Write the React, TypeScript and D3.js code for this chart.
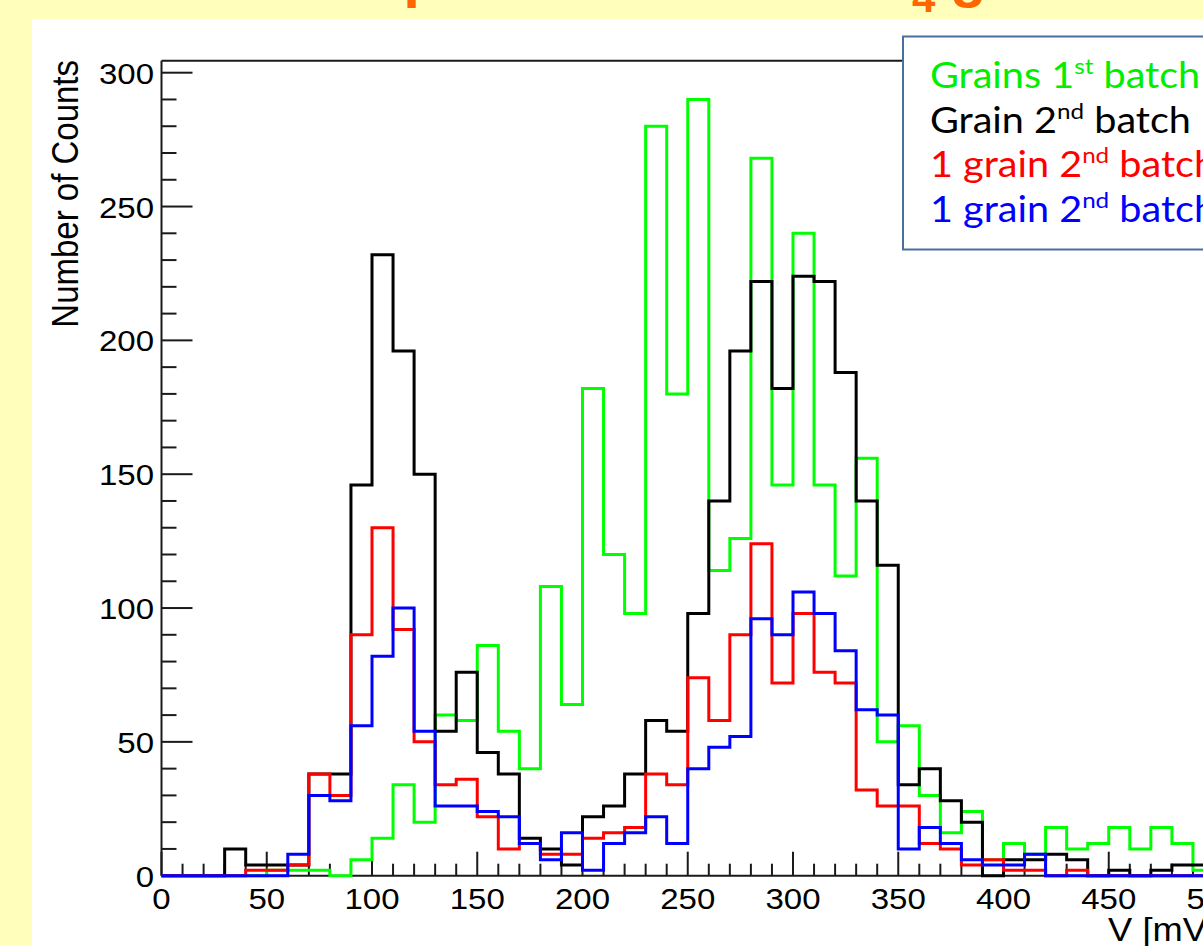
import React from "react";
import * as d3 from "d3";

// Bin edges: 0..500 mV, 10 mV wide bins
const binWidth = 10;
const grains1st = [0,0,0,0,0,2,2,2,0,6,14,34,20,60,58,86,54,40,108,64,182,120,98,280,180,290,114,126,268,146,240,146,112,156,50,56,30,16,24,6,12,8,18,10,12,18,10,18,12,2];
const grain2nd = [0,0,0,10,4,4,4,38,38,146,232,196,150,54,76,46,38,14,10,4,22,26,38,58,54,98,140,196,222,182,224,222,188,140,116,34,40,28,20,0,6,6,8,6,0,2,0,2,4,4];
const oneGrainRed = [0,0,0,0,2,2,4,38,30,90,130,92,50,34,36,22,10,12,8,8,14,16,18,38,34,74,58,90,124,72,98,76,72,32,26,26,12,10,4,6,2,2,0,2,0,0,0,0,0,0];
const oneGrainBlue = [0,0,0,0,0,0,8,30,28,56,82,100,54,26,26,24,22,12,6,16,2,12,16,22,12,40,48,52,96,90,106,98,84,62,60,10,18,12,6,4,4,8,0,0,0,0,0,0,0,0];

const xTicksMajor = [0, 50, 100, 150, 200, 250, 300, 350, 400, 450, 500];
const yTicksMajor = [0, 50, 100, 150, 200, 250, 300];

const series = [
  { name: "green", values: grains1st, color: "#00ff00" },
  { name: "black", values: grain2nd, color: "#000000" },
  { name: "red", values: oneGrainRed, color: "#ff0000" },
  { name: "blue", values: oneGrainBlue, color: "#0000ff" },
];

const legendItems = [
  { pre: "Grains 1", sup: "st", post: " batch", color: "#00ee00" },
  { pre: "Grain 2", sup: "nd", post: " batch", color: "#000000" },
  { pre: "1 grain 2", sup: "nd", post: " batch", color: "#ff0000" },
  { pre: "1 grain 2", sup: "nd", post: " batch", color: "#0000ff" },
];

const W = 1203;
const H = 946;
const SX = 1.1; // horizontal stretch of the original picture

export default function App() {
  const x = d3.scaleLinear().domain([0, 500]).range([161.5, 1214]);
  const y = d3.scaleLinear().domain([0, 300]).range([875.7, 72.7]);
  const yTop = y(304.5);

  const line = d3
    .line<[number, number]>()
    .x((d) => x(d[0]))
    .y((d) => y(d[1]))
    .curve(d3.curveStepAfter);

  const pathFor = (vals: number[]) => {
    const pts: [number, number][] = [[0, 0]];
    vals.forEach((v, i) => pts.push([i * binWidth, v]));
    pts.push([vals.length * binWidth, vals[vals.length - 1]]);
    pts.push([vals.length * binWidth, 0]);
    return line(pts) || "";
  };

  const yMinor = d3.range(0, 301, 10).filter((v) => v % 50 !== 0);
  const xMinor = d3.range(0, 501, 10).filter((v) => v % 50 !== 0);

  const tf = (tx: number, ty: number, extra = "") =>
    `translate(${tx},${ty}) scale(${SX},1)${extra ? " " + extra : ""}`;

  const axisFont = "'Liberation Sans', Arial, Helvetica, sans-serif";
  const legendFont = "Lato, 'Open Sans', sans-serif";

  return (
    <div style={{ position: "absolute", left: 0, top: 0, width: W, height: H }}>
      <svg width={W} height={H} style={{ display: "block" }}>
        <rect x={0} y={0} width={W} height={H} fill="#ffffbb" />
        {/* slide title, mostly cut off at top */}
        <g fill="#ff6600" fontFamily={axisFont} fontWeight="bold">
          <text x={270} y={-3.6} fontSize={60}>Comparison of CaWO</text>
          <text x={912} y={12} fontSize={42}>4</text>
          <text x={950} y={-3.6} fontSize={60}>grains</text>
        </g>
        <rect x={32} y={19} width={W - 32} height={H - 19} fill="#ffffff" />

        {/* frame */}
        <g stroke="#1a1a1a" strokeWidth={2} fill="none">
          <line x1={x(0)} x2={x(0)} y1={yTop} y2={y(0)} />
          <line x1={x(0)} x2={x(500)} y1={yTop} y2={yTop} />
          <line x1={x(0)} x2={x(500)} y1={y(0)} y2={y(0)} />
          {yTicksMajor.map((t) => (
            <line key={"ym" + t} x1={x(0)} x2={x(0) + 31} y1={y(t)} y2={y(t)} />
          ))}
          {yMinor.map((t) => (
            <line key={"yn" + t} x1={x(0)} x2={x(0) + 15} y1={y(t)} y2={y(t)} />
          ))}
          {xTicksMajor.map((t) => (
            <line key={"xm" + t} x1={x(t)} x2={x(t)} y1={y(0)} y2={y(0) - 24} />
          ))}
          {xMinor.map((t) => (
            <line key={"xn" + t} x1={x(t)} x2={x(t)} y1={y(0)} y2={y(0) - 12} />
          ))}
        </g>

        {/* tick labels */}
        <g fontFamily={axisFont} fontSize={30} fill="#000">
          {yTicksMajor.map((t) => (
            <text key={"yl" + t} transform={tf(154, y(t) + 11)} textAnchor="end">
              {t}
            </text>
          ))}
          {xTicksMajor.map((t) => (
            <text key={"xl" + t} transform={tf(x(t), 909)} textAnchor="middle">
              {t}
            </text>
          ))}
        </g>

        {/* axis titles */}
        <g fontFamily={axisFont} fill="#000">
          <text transform={tf(78, 60, "rotate(-90)")} textAnchor="end" fontSize={33}>
            Number of Counts
          </text>
          <text transform={tf(1217, 941)} textAnchor="end" fontSize={33}>
            V [mV]
          </text>
        </g>

        {/* histograms */}
        <g fill="none" strokeWidth={3} strokeLinejoin="miter">
          {series.map((s) => (
            <path key={s.name} d={pathFor(s.values)} stroke={s.color} />
          ))}
        </g>

        {/* legend */}
        <rect x={903} y={36.5} width={400} height={213} fill="#ffffff" stroke="#4a6f9e" strokeWidth={2} />
        <g fontFamily={legendFont} fontSize={36}>
          {legendItems.map((it, i) => (
            <text key={i} transform={tf(930, 88 + i * 44.7)} fill={it.color}>
              {it.pre}
              <tspan fontSize={22} dy={-14}>{it.sup}</tspan>
              <tspan dy={14}>{it.post}</tspan>
            </text>
          ))}
        </g>
      </svg>
    </div>
  );
}
